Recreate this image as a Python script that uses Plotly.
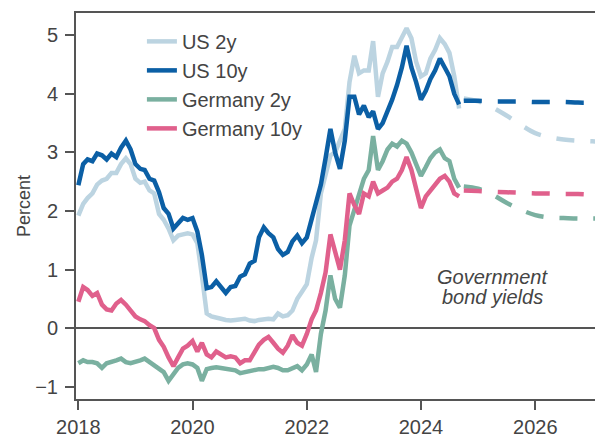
import pandas as pd
import plotly.graph_objects as go

# Monthly observation dates (month starts), Jan 2018 - Sep 2024
dates = pd.date_range("2018-01-01", periods=81, freq="MS")

us_2y = [1.92, 2.12, 2.22, 2.30, 2.45, 2.52, 2.55, 2.65, 2.65, 2.80, 2.90, 2.80,
         2.55, 2.48, 2.50, 2.35, 2.30, 1.95, 1.85, 1.70, 1.50, 1.58, 1.60, 1.62,
         1.60, 1.45, 0.90, 0.25, 0.20, 0.17, 0.16, 0.14, 0.13, 0.14, 0.15, 0.16,
         0.13, 0.12, 0.14, 0.16, 0.16, 0.15, 0.25, 0.20, 0.22, 0.30, 0.50, 0.62,
         0.75, 1.20, 1.50, 2.30, 2.65, 2.95, 3.00, 3.20, 3.40, 4.20, 4.65, 4.35,
         4.40, 4.40, 4.90, 3.95, 4.35, 4.55, 4.80, 4.80, 4.95, 5.12, 4.95, 4.55,
         4.30, 4.35, 4.60, 4.75, 4.95, 4.85, 4.70, 4.30, 3.75]

us_10y = [2.44, 2.80, 2.88, 2.85, 2.98, 2.95, 2.88, 2.98, 2.92, 3.08, 3.20, 3.05,
          2.80, 2.72, 2.70, 2.55, 2.52, 2.32, 2.05, 1.95, 1.70, 1.80, 1.88, 1.85,
          1.88, 1.65, 1.25, 0.68, 0.70, 0.80, 0.70, 0.60, 0.70, 0.72, 0.88, 0.92,
          1.10, 1.15, 1.55, 1.72, 1.62, 1.55, 1.35, 1.25, 1.30, 1.48, 1.58, 1.45,
          1.55, 1.85, 2.10, 2.45, 2.90, 3.40, 3.00, 2.72, 3.20, 3.95, 3.95, 3.65,
          3.80, 3.60, 3.70, 3.40, 3.50, 3.70, 3.90, 4.15, 4.45, 4.82, 4.45, 4.20,
          3.90, 4.05, 4.25, 4.40, 4.60, 4.45, 4.30, 4.00, 3.82]

de_2y = [-0.60, -0.55, -0.58, -0.58, -0.60, -0.68, -0.60, -0.58, -0.55, -0.52, -0.58, -0.60,
         -0.58, -0.55, -0.52, -0.58, -0.62, -0.70, -0.75, -0.90, -0.78, -0.68, -0.62, -0.60,
         -0.62, -0.68, -0.90, -0.70, -0.68, -0.67, -0.68, -0.70, -0.72, -0.72, -0.77, -0.75,
         -0.72, -0.70, -0.70, -0.70, -0.68, -0.66, -0.68, -0.72, -0.72, -0.68, -0.65, -0.72,
         -0.62, -0.45, -0.75, -0.10, 0.30, 0.90, 0.50, 0.35, 0.90, 1.75, 2.00, 2.30,
         2.55, 2.70, 3.28, 2.70, 2.85, 3.05, 3.15, 3.10, 3.20, 3.15, 3.00, 2.80,
         2.60, 2.75, 2.90, 3.00, 3.05, 2.90, 2.85, 2.55, 2.40]

de_10y = [0.45, 0.70, 0.65, 0.55, 0.60, 0.40, 0.32, 0.30, 0.42, 0.48, 0.40, 0.30,
          0.20, 0.15, 0.12, 0.05, 0.00, -0.20, -0.32, -0.50, -0.65, -0.50, -0.35, -0.30,
          -0.22, -0.40, -0.25, -0.45, -0.50, -0.40, -0.45, -0.50, -0.48, -0.50, -0.60, -0.55,
          -0.55, -0.40, -0.28, -0.20, -0.15, -0.25, -0.35, -0.42, -0.30, -0.12, -0.25, -0.30,
          -0.10, 0.15, 0.30, 0.60, 0.95, 1.60, 1.30, 1.00, 1.50, 2.30, 2.10, 1.95,
          2.30, 2.25, 2.50, 2.30, 2.35, 2.40, 2.50, 2.55, 2.70, 2.92, 2.70, 2.40,
          2.05, 2.25, 2.35, 2.45, 2.55, 2.60, 2.50, 2.30, 2.25]

# Forecast paths (quarterly)
fc_dates = ["2024-10-01", "2025-01-01", "2025-04-01", "2025-07-01", "2025-10-01",
            "2026-01-01", "2026-04-01", "2026-07-01", "2026-10-01", "2027-01-01", "2027-04-01"]
us_2y_fc = [3.92, 3.87, 3.77, 3.63, 3.47, 3.33, 3.26, 3.22, 3.20, 3.19, 3.18]
us_10y_fc = [3.88, 3.88, 3.87, 3.87, 3.87, 3.86, 3.86, 3.86, 3.85, 3.85, 3.85]
de_2y_fc = [2.42, 2.38, 2.28, 2.14, 2.02, 1.93, 1.89, 1.88, 1.87, 1.87, 1.87]
de_10y_fc = [2.35, 2.34, 2.33, 2.32, 2.31, 2.30, 2.30, 2.29, 2.29, 2.28, 2.28]

names = ["US 2y", "US 10y", "Germany 2y", "Germany 10y"]
colors = ["#bcd4e1", "#0b5fa5", "#7ab0a0", "#e0608c"]
hist = [us_2y, us_10y, de_2y, de_10y]
fcs = [us_2y_fc, us_10y_fc, de_2y_fc, de_10y_fc]

tick_years = ["2018", "2020", "2022", "2024", "2026"]

fig = go.Figure()
for name, col, vals in zip(names, colors, hist):
    fig.add_trace(go.Scatter(x=dates, y=vals, mode="lines", name=name,
                             line=dict(color=col, width=4.5)))
for name, col, vals in zip(names, colors, fcs):
    fig.add_trace(go.Scatter(x=fc_dates, y=vals, mode="lines", name=name + " forecast",
                             showlegend=False,
                             line=dict(color=col, width=4.5, dash="18px,16px", shape="spline")))

axis_col = "#555555"
font_col = "#444444"

fig.update_layout(
    width=595, height=434,
    margin=dict(l=76, r=0, t=13, b=35, autoexpand=False),
    paper_bgcolor="white", plot_bgcolor="white",
    font=dict(family="Liberation Sans, Arial, sans-serif", size=20, color=font_col),
    showlegend=True,
    legend=dict(x=0.127, y=0.977, xanchor="left", yanchor="top",
                bgcolor="rgba(0,0,0,0)", borderwidth=0,
                font=dict(size=20, color=font_col), itemwidth=30,
                tracegroupgap=0),
    xaxis=dict(type="date", range=["2017-12-17", "2027-01-18"], automargin=False,
               tickvals=[y + "-01-01" for y in tick_years], ticktext=tick_years,
               showline=True, linecolor=axis_col, linewidth=2, mirror=True,
               ticks="outside", ticklen=9, tickwidth=2, tickcolor=axis_col,
               showgrid=False, zeroline=False, ticklabelstandoff=0,
               tickfont=dict(size=20, color=font_col)),
    yaxis=dict(range=[-1.21, 5.38], tickvals=[-1, 0, 1, 2, 3, 4, 5], automargin=False,
               showline=True, linecolor=axis_col, linewidth=2, mirror=False,
               ticks="outside", ticklen=9, tickwidth=2, tickcolor=axis_col,
               showgrid=False, zeroline=True, zerolinecolor=axis_col, zerolinewidth=1.5,
               tickfont=dict(size=20, color=font_col), ticklabelstandoff=3,
               title=dict(text="Percent", font=dict(size=18, color=font_col), standoff=0)),
)

fig.add_annotation(x="2025-04-03", y=0.88, xref="x", yref="y", text="<i>Government</i>",
                   showarrow=False, font=dict(size=20, color=font_col), xanchor="center", yanchor="middle")
fig.add_annotation(x="2025-04-03", y=0.53, xref="x", yref="y", text="<i>bond yields</i>",
                   showarrow=False, font=dict(size=20, color=font_col), xanchor="center", yanchor="middle")

fig.write_html("out.html", config={"displayModeBar": False},
               post_script="document.body.style.margin='0px';")
